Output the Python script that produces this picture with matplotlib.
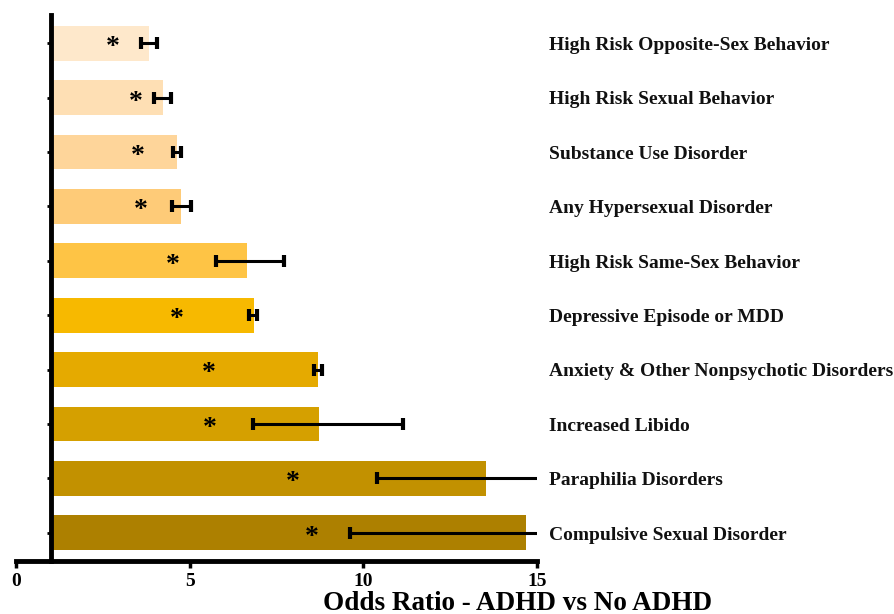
import numpy as np
import matplotlib
matplotlib.use("Agg")
import matplotlib.pyplot as plt

plt.rcParams['font.family'] = ['Liberation Serif', 'DejaVu Serif']
plt.rcParams['font.weight'] = 'bold'

categories = [
    "High Risk Opposite-Sex Behavior",
    "High Risk Sexual Behavior",
    "Substance Use Disorder",
    "Any Hypersexual Disorder",
    "High Risk Same-Sex Behavior",
    "Depressive Episode or MDD",
    "Anxiety & Other Nonpsychotic Disorders",
    "Increased Libido",
    "Paraphilia Disorders",
    "Compulsive Sexual Disorder",
]
odds_ratio = [3.82, 4.22, 4.63, 4.76, 6.66, 6.84, 8.70, 8.73, 13.53, 14.68]
ci_low = [3.59, 3.97, 4.52, 4.50, 5.75, 6.72, 8.59, 6.83, 10.38, 9.62]
ci_high = [4.07, 4.47, 4.76, 5.03, 7.72, 6.95, 8.81, 11.15, 17.7, 22.4]
star_x = [2.80, 3.45, 3.52, 3.59, 4.52, 4.62, 5.54, 5.57, 7.96, 8.51]
bar_colors = ["#FEE8CB", "#FEDFB4", "#FED59A", "#FECB78", "#FEC445",
              "#F7B900", "#E5AA00", "#D5A000", "#C29100", "#AD8000"]

baseline = 1.0
y = np.arange(len(categories))

fig = plt.figure(figsize=(8.95, 6.14), dpi=100)
ax = fig.add_axes([16 / 895, 1 - 561 / 614, (537 - 16) / 895, (561 - 15) / 614])

ax.barh(y, np.array(odds_ratio) - baseline, left=baseline, height=0.64,
        color=bar_colors, edgecolor='none', zorder=1)

lo = np.array(ci_low)
hi = np.array(ci_high)
ax.errorbar((lo + hi) / 2, y, xerr=(hi - lo) / 2, fmt='none', ecolor='black',
            elinewidth=2.2, capsize=4, capthick=3, zorder=3)

for yi, sx in zip(y, star_x):
    ax.text(sx, yi + 0.08, "*", ha='center', va='center', fontsize=20,
            fontweight='bold', color='black', zorder=4)

for yi, lab in zip(y, categories):
    ax.text(15.35, yi + 0.125, lab, ha='left', va='baseline', fontsize=14,
            fontweight='bold', color='#111111', clip_on=False)

ax.set_xlim(0, 15)
ax.set_ylim(len(categories) - 0.48, -0.52)

for side in ['top', 'right']:
    ax.spines[side].set_visible(False)
ax.spines['left'].set_position(('data', baseline))
ax.spines['left'].set_linewidth(3.5)
ax.spines['bottom'].set_linewidth(3.5)

ax.set_xticks([0, 5, 10, 15])
ax.set_xticklabels(['0', '5', '10', '15'])
ax.tick_params(axis='x', direction='out', length=5, width=2.5, labelsize=14, pad=4)
ax.set_yticks(y)
ax.set_yticklabels([])
ax.tick_params(axis='y', direction='out', length=3, width=2)

fig.text(518 / 895, 1 - 610 / 614, "Odds Ratio - ADHD vs No ADHD", ha='center',
         va='baseline', fontsize=19.5, fontweight='bold')

fig.savefig("out.png", dpi=100, facecolor='white')
